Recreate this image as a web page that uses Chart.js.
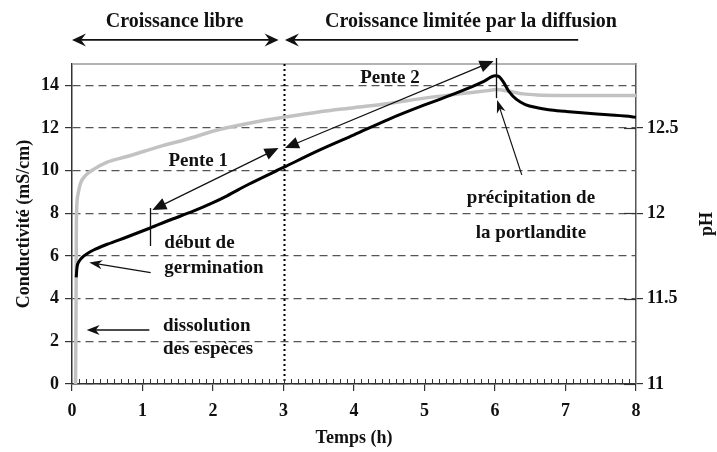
<!DOCTYPE html>
<html>
<head>
<meta charset="utf-8">
<title>Conductivité et pH</title>
<script src="https://cdn.jsdelivr.net/npm/chart.js@4.4.1/dist/chart.umd.min.js"></script>
<style>
  html, body { margin: 0; padding: 0; background: #fff; }
  canvas { display: block; }
</style>
</head>
<body>
<canvas id="c" width="717" height="452"></canvas>
<script>
// Conductivité (mS/cm) en fonction du temps (h)
const condHours = [0.06, 0.07, 0.1, 0.15, 0.22, 0.3, 0.5, 0.77, 1.1, 1.4, 1.72, 2.0, 2.2, 2.5, 3.0, 3.5, 4.0, 4.5, 5.0, 5.5, 5.85, 6.0, 6.06, 6.12, 6.2, 6.3, 6.43, 6.6, 6.76, 7.0, 7.23, 7.6, 7.94, 8.0];
const condValues = [5.0, 5.45, 5.75, 5.95, 6.12, 6.27, 6.55, 6.88, 7.3, 7.7, 8.1, 8.5, 8.82, 9.35, 10.15, 10.95, 11.68, 12.42, 13.08, 13.7, 14.2, 14.45, 14.4, 14.15, 13.7, 13.35, 13.1, 12.95, 12.86, 12.78, 12.71, 12.62, 12.53, 12.5];

// pH en fonction du temps (h)
const phHours = [0.05, 0.058, 0.062, 0.08, 0.12, 0.2, 0.3, 0.5, 0.78, 1.24, 1.6, 2.09, 2.66, 3.0, 3.5, 4.0, 4.5, 5.0, 5.5, 5.9, 6.02, 6.2, 6.4, 6.6, 7.0, 8.0];
const phValues = [11.0, 11.5, 11.94, 12.1, 12.175, 12.225, 12.256, 12.3, 12.333, 12.391, 12.431, 12.491, 12.54, 12.563, 12.594, 12.619, 12.644, 12.675, 12.7, 12.719, 12.725, 12.715, 12.7, 12.694, 12.691, 12.69];

// Graduations
const hourTicks = [0, 1, 2, 3, 4, 5, 6, 7, 8];
const condTicks = [0, 2, 4, 6, 8, 10, 12, 14];
const phTicks = [11, 11.5, 12, 12.5];
const minorHourStep = 0.1;
const condMax = 15;
const phMin = 11;
const phMax = 11 + condMax / 8;

// Limite entre les deux régimes de croissance
const regimeSplit = 3;

const SERIF = '"Liberation Serif", "Times New Roman", serif';
const INK = '#111';

// Textes et flèches, placés en coordonnées (temps, conductivité)
const labels = [
  { text: 'Croissance libre', t: 1.455, v: 17.0, size: 20, align: 'center' },
  { text: 'Croissance limitée par la diffusion', t: 5.66, v: 17.0, size: 20, align: 'center' },
  { text: 'Pente 1', t: 1.79, v: 10.45, size: 19, align: 'center' },
  { text: 'Pente 2', t: 4.51, v: 14.34, size: 19, align: 'center' },
  { text: 'début de', t: 1.31, v: 6.62, size: 19, align: 'left' },
  { text: 'germination', t: 1.31, v: 5.45, size: 19, align: 'left' },
  { text: 'dissolution', t: 1.29, v: 2.72, size: 19, align: 'left' },
  { text: 'des espèces', t: 1.29, v: 1.64, size: 19, align: 'left' },
  { text: 'précipitation de', t: 6.51, v: 8.72, size: 19, align: 'center' },
  { text: 'la portlandite', t: 6.51, v: 7.08, size: 19, align: 'center' }
];

const arrows = [
  // régimes (en haut)
  { t1: 0.0, v1: 16.13, t2: 2.93, v2: 16.13, start: true, end: true, width: 1.6, len: 14, half: 6.5, notch: 0.35 },
  { t1: 3.02, v1: 16.13, t2: 7.18, v2: 16.13, start: true, end: false, width: 1.6, len: 14, half: 6.5, notch: 0.35 },
  // pentes
  { t1: 1.14, v1: 8.16, t2: 2.93, v2: 11.06, start: true, end: true, width: 1.2, len: 14, half: 6, notch: 0 },
  { t1: 3.02, v1: 11.06, t2: 5.98, v2: 15.14, start: true, end: true, width: 1.2, len: 14, half: 6, notch: 0 },
  // repères
  { t1: 1.116, v1: 5.22, t2: 0.245, v2: 5.69, start: false, end: true, width: 1.2, len: 13, half: 4.5, notch: 0.3 },
  { t1: 1.097, v1: 2.53, t2: 0.208, v2: 2.53, start: false, end: true, width: 1.5, len: 13, half: 5, notch: 0.3 },
  { t1: 6.38, v1: 9.8, t2: 6.03, v2: 13.31, start: false, end: true, width: 1.2, len: 13, half: 4.5, notch: 0.3 }
];

const markers = [
  { t: 1.11, v1: 8.25, v2: 6.47 },
  { t: 6.01, v1: 15.28, v2: 13.4 }
];

function drawHead(ctx, x, y, ang, len, half, notch) {
  ctx.save();
  ctx.translate(x, y);
  ctx.rotate(ang);
  ctx.beginPath();
  ctx.moveTo(0, 0);
  ctx.lineTo(-len, -half);
  ctx.lineTo(-len * (1 - notch), 0);
  ctx.lineTo(-len, half);
  ctx.closePath();
  ctx.fill();
  ctx.restore();
}

const notes = {
  id: 'notes',
  beforeDraw(chart) {
    const ctx = chart.ctx;
    ctx.save();
    ctx.fillStyle = '#fff';
    ctx.fillRect(0, 0, chart.width, chart.height);
    ctx.restore();
  },
  beforeDatasetsDraw(chart) {
    const { ctx, chartArea: a, scales: { x, y1 } } = chart;
    ctx.save();
    // cadre supérieur
    ctx.strokeStyle = '#9a9a9a';
    ctx.lineWidth = 1.5;
    ctx.beginPath();
    ctx.moveTo(a.left, a.top);
    ctx.lineTo(a.right, a.top);
    ctx.stroke();
    // séparation des régimes
    const xs = Math.round(x.getPixelForValue(regimeSplit)) + 0.5;
    ctx.strokeStyle = '#000';
    ctx.lineWidth = 2;
    ctx.setLineDash([2, 3]);
    ctx.beginPath();
    ctx.moveTo(xs, a.top);
    ctx.lineTo(xs, a.bottom);
    ctx.stroke();
    ctx.setLineDash([]);
    // graduations secondaires de l'axe du temps
    ctx.strokeStyle = '#333';
    ctx.lineWidth = 1;
    const n = Math.round((x.max - x.min) / minorHourStep);
    for (let i = 1; i < n; i++) {
      const px = Math.round(x.getPixelForValue(x.min + i * minorHourStep)) + 0.5;
      ctx.beginPath();
      ctx.moveTo(px, a.bottom);
      ctx.lineTo(px, a.bottom - 5);
      ctx.stroke();
    }
    // partie intérieure des graduations du pH
    ctx.lineWidth = 1.2;
    for (const v of phTicks) {
      const py = Math.round(y1.getPixelForValue(v)) + 0.5;
      ctx.beginPath();
      ctx.moveTo(a.right - 12, py);
      ctx.lineTo(a.right, py);
      ctx.stroke();
    }
    ctx.restore();
  },
  afterDraw(chart) {
    const { ctx, chartArea: a, scales: { x, y, y1 } } = chart;
    const X = t => x.getPixelForValue(t);
    const Y = v => y.getPixelForValue(v);
    ctx.save();
    ctx.fillStyle = INK;
    ctx.strokeStyle = INK;
    ctx.textBaseline = 'middle';
    for (const l of labels) {
      ctx.font = 'bold ' + l.size + 'px ' + SERIF;
      ctx.textAlign = l.align;
      ctx.fillText(l.text, X(l.t), Y(l.v));
    }
    for (const r of arrows) {
      const x1 = X(r.t1), y1p = Y(r.v1), x2 = X(r.t2), y2p = Y(r.v2);
      const ang = Math.atan2(y2p - y1p, x2 - x1);
      const cut = r.len * (1 - r.notch) * 0.9;
      let sx = x1, sy = y1p, ex = x2, ey = y2p;
      if (r.start) { sx += Math.cos(ang) * cut; sy += Math.sin(ang) * cut; }
      if (r.end) { ex -= Math.cos(ang) * cut; ey -= Math.sin(ang) * cut; }
      ctx.lineWidth = r.width;
      ctx.beginPath();
      ctx.moveTo(sx, sy);
      ctx.lineTo(ex, ey);
      ctx.stroke();
      if (r.end) drawHead(ctx, x2, y2p, ang, r.len, r.half, r.notch);
      if (r.start) drawHead(ctx, x1, y1p, ang + Math.PI, r.len, r.half, r.notch);
    }
    ctx.lineWidth = 1.3;
    for (const m of markers) {
      const px = Math.round(X(m.t)) + 0.5;
      ctx.beginPath();
      ctx.moveTo(px, Y(m.v1));
      ctx.lineTo(px, Y(m.v2));
      ctx.stroke();
    }
    // titre de l'axe du pH
    ctx.font = 'bold 18px ' + SERIF;
    ctx.textAlign = 'center';
    ctx.translate(y1.right - 10, (a.top + a.bottom) / 2);
    ctx.rotate(-Math.PI / 2);
    ctx.fillText('pH', 0, 0);
    ctx.restore();
  }
};

Chart.defaults.font.family = SERIF;
Chart.defaults.color = INK;

new Chart(document.getElementById('c'), {
  type: 'line',
  data: {
    datasets: [
      {
        label: 'Conductivité',
        data: condHours.map((t, i) => ({ x: t, y: condValues[i] })),
        yAxisID: 'y',
        borderColor: '#000',
        borderWidth: 3,
        pointRadius: 0,
        cubicInterpolationMode: 'monotone',
        fill: false
      },
      {
        label: 'pH',
        data: phHours.map((t, i) => ({ x: t, y: phValues[i] })),
        yAxisID: 'y1',
        borderColor: '#c2c2c2',
        borderWidth: 3.5,
        pointRadius: 0,
        cubicInterpolationMode: 'monotone',
        fill: false
      }
    ]
  },
  options: {
    responsive: false,
    animation: false,
    devicePixelRatio: 1,
    layout: { padding: { top: 64, left: 0, right: 0, bottom: 0 } },
    plugins: { legend: { display: false }, tooltip: { enabled: false } },
    scales: {
      x: {
        type: 'linear',
        position: 'bottom',
        min: 0,
        max: 8,
        afterBuildTicks: s => { s.ticks = hourTicks.map(v => ({ value: v })); },
        afterFit: s => { s.height = 68; },
        grid: { drawOnChartArea: false, drawTicks: true, tickLength: 7, color: '#333', lineWidth: 1.2 },
        border: { color: '#333', width: 1.5 },
        ticks: { font: { size: 18, weight: 'bold' }, color: INK, padding: 10, autoSkip: false, maxRotation: 0, callback: v => String(v) },
        title: { display: true, text: 'Temps (h)', font: { size: 18, weight: 'bold' }, color: INK, padding: { top: 0, bottom: 3 } }
      },
      y: {
        type: 'linear',
        position: 'left',
        min: 0,
        max: condMax,
        afterBuildTicks: s => { s.ticks = condTicks.map(v => ({ value: v })); },
        afterFit: s => { s.width = 72; },
        grid: { drawOnChartArea: true, drawTicks: true, tickLength: 7, color: '#555', lineWidth: 1.2, tickColor: '#333' },
        border: { color: '#333', width: 1.5, dash: [8, 5] },
        ticks: { font: { size: 18, weight: 'bold' }, color: INK, padding: 6, callback: v => String(v) },
        title: { display: true, text: 'Conductivité (mS/cm)', font: { size: 18, weight: 'bold' }, color: INK, padding: { top: 14, bottom: 0 } }
      },
      y1: {
        type: 'linear',
        position: 'right',
        min: phMin,
        max: phMax,
        afterBuildTicks: s => { s.ticks = phTicks.map(v => ({ value: v })); },
        afterFit: s => { s.width = 81; },
        grid: { drawOnChartArea: false, drawTicks: true, tickLength: 7, color: '#333', lineWidth: 1.2 },
        border: { color: '#555', width: 1.5 },
        ticks: { font: { size: 18, weight: 'bold' }, color: INK, padding: 4, callback: v => String(v) },
        title: { display: false }
      }
    }
  },
  plugins: [notes]
});
</script>
</body>
</html>
